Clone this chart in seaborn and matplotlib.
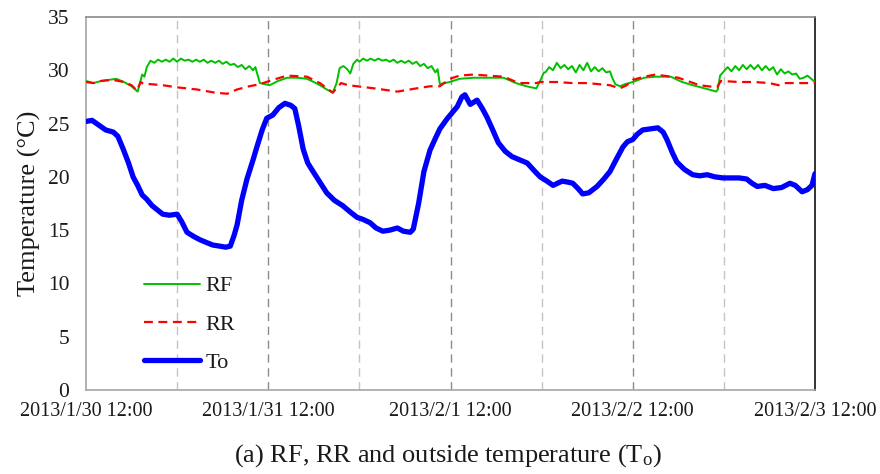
import matplotlib
matplotlib.use("Agg")
import matplotlib.pyplot as plt
import seaborn as sns
import pandas as pd
import numpy as np

# ---------------- data (hours after 2013/1/30 12:00, temperature in degC) ----------------
start_time = "2013-01-30 12:00"

to_hours = [0, 0.8, 1.8, 2.6, 3.6, 4.2, 4.9, 5.6, 6.2, 6.8, 7.4, 8.0, 8.7, 9.4, 10.1, 11.0, 12.0,
            12.6, 13.3, 14.2, 15.0, 16.0, 16.7, 17.6, 18.4, 19.0, 19.5, 19.9, 20.5, 21.2, 22.0,
            22.5, 23.2, 23.8, 24.6, 25.4, 26.2, 27.0, 27.5, 28.0, 28.6, 29.2, 29.9, 30.8, 31.7,
            32.7, 33.8, 34.8, 35.7, 36.5, 37.4, 38.2, 39.1, 40.0, 41.0, 41.8, 42.7, 43.1, 43.8,
            44.5, 45.3, 46.0, 46.6, 47.5, 48.2, 48.9, 49.5, 49.9, 50.6, 51.5, 52.2, 52.8, 53.5,
            54.3, 55.2, 56.1, 57.1, 58.1, 59.0, 59.8, 60.7, 61.5, 62.1, 62.7, 63.5, 64.1, 64.8,
            65.4, 66.2, 67.3, 68.2, 69.0, 69.8, 70.7, 71.3, 72.0, 72.6, 73.3, 74.3, 75.3, 76.0,
            76.5, 77.2, 77.8, 78.8, 79.9, 80.8, 81.8, 82.8, 83.9, 85.0, 86.0, 87.0, 87.7, 88.4,
            89.4, 90.5, 91.6, 92.7, 93.4, 94.3, 95.0, 95.6, 96.0]
to_values = [25.2, 25.3, 24.8, 24.4, 24.2, 23.8, 22.6, 21.3, 20.0, 19.2, 18.3, 17.9, 17.3, 16.9,
             16.5, 16.4, 16.5, 15.8, 14.8, 14.4, 14.1, 13.8, 13.6, 13.5, 13.4, 13.5, 14.5, 15.5,
             17.8, 19.8, 21.6, 22.8, 24.4, 25.5, 25.8, 26.5, 26.9, 26.7, 26.4, 24.8, 22.6, 21.3,
             20.5, 19.5, 18.5, 17.8, 17.3, 16.7, 16.2, 16.0, 15.7, 15.2, 14.9, 15.0, 15.2, 14.9,
             14.8, 15.1, 17.5, 20.5, 22.5, 23.6, 24.5, 25.4, 26.0, 26.6, 27.5, 27.7, 26.8, 27.2,
             26.4, 25.6, 24.5, 23.2, 22.4, 21.9, 21.6, 21.3, 20.6, 20.0, 19.6, 19.2, 19.4, 19.6,
             19.5, 19.4, 18.9, 18.4, 18.5, 19.1, 19.8, 20.5, 21.6, 22.8, 23.3, 23.5, 24.0, 24.4,
             24.5, 24.6, 24.2, 23.5, 22.3, 21.4, 20.7, 20.2, 20.1, 20.2, 20.0, 19.9, 19.9, 19.9,
             19.8, 19.4, 19.1, 19.2, 18.9, 19.0, 19.4, 19.2, 18.6, 18.8, 19.2, 20.3]

rf_hours = [0, 1, 2, 3, 4, 5, 6, 6.8, 7.1, 7.4, 7.7, 8.0,
            8.5, 9.0, 9.5, 10.0, 10.5, 11.0, 11.5, 12.0, 12.5, 13.0, 13.5, 14.0, 14.5, 15.0,
            15.5, 16.0, 16.5, 17.0, 17.5, 18.0, 18.5, 19.0, 19.5, 20.0, 20.5, 21.0, 21.5, 22.0,
            22.3, 22.9, 24.2, 25.3, 26.5, 27.8, 29.1, 30.0, 30.8, 31.7, 32.5, 33.0, 33.4, 33.9,
            34.4, 34.8, 35.2, 35.7,
            36.0, 36.5, 37.0, 37.5, 38.0, 38.5, 39.0, 39.5, 40.0, 40.5, 41.0, 41.5, 42.0, 42.5,
            43.0, 43.5, 44.0, 44.5, 45.0, 45.5, 46.0, 46.3, 46.6,
            47.9, 49.2, 51.0, 53.0, 55.0, 56.6, 58.0, 59.3, 59.8, 60.3,
            60.5, 61.0, 61.5, 62.0, 62.5, 63.0, 63.5, 64.0, 64.5, 65.0, 65.5, 66.0, 66.5, 67.0,
            67.5, 68.0, 68.5, 69.0, 69.3, 69.7, 70.3, 71.0, 72.0, 73.5, 75.0, 77.0, 78.5, 79.9,
            81.5, 83.0, 83.2, 83.5, 84.0,
            84.5, 85.0, 85.5, 86.0, 86.5, 87.0, 87.5, 88.0, 88.5, 89.0, 89.5, 90.0, 90.5, 91.0,
            91.5, 92.0, 92.5, 93.0, 93.5, 94.0, 94.5, 95.0, 95.5, 96.0]
rf_values = [29.0, 28.8, 29.0, 29.1, 29.2, 28.9, 28.5, 28.0, 28.8, 29.6, 29.4, 30.3,
             30.9, 30.7, 31.0, 30.8, 31.0, 30.8, 31.1, 30.8, 31.1, 30.9, 31.0, 30.8, 31.0, 30.8,
             31.0, 30.7, 30.9, 30.7, 30.9, 30.6, 30.8, 30.5, 30.6, 30.3, 30.5, 30.1, 30.4, 30.0,
             30.3, 28.8, 28.6, 29.0, 29.3, 29.3, 29.2, 28.9, 28.6, 28.2, 27.9, 28.8, 30.2, 30.4,
             30.1, 29.7, 30.6, 31.0,
             30.8, 31.1, 30.9, 31.1, 30.9, 31.1, 30.9, 31.0, 30.8, 31.0, 30.7, 30.9, 30.7, 30.9,
             30.6, 30.8, 30.4, 30.6, 30.2, 30.4, 29.8, 30.1, 28.7,
             28.9, 29.2, 29.3, 29.3, 29.3, 28.8, 28.5, 28.3, 29.0, 29.8,
             29.8, 30.3, 30.0, 30.7, 30.2, 30.5, 30.1, 30.4, 29.8, 30.5, 30.0, 30.7, 29.9, 30.3,
             29.9, 30.2, 29.8, 29.9, 29.3, 28.7, 28.5, 28.7, 28.9, 29.3, 29.4, 29.4, 28.9, 28.6,
             28.3, 28.0, 28.2, 29.5, 29.9,
             30.3, 29.9, 30.4, 30.0, 30.5, 30.1, 30.5, 30.1, 30.5, 30.0, 30.4, 30.0, 30.3, 29.6,
             30.1, 29.7, 29.9, 29.6, 29.7, 29.2, 29.3, 29.5, 29.2, 28.9]

rr_hours = [0, 1, 2, 3.5, 5, 6, 6.7, 7.2, 7.6, 8.5, 10.1, 12, 14.6, 17, 18.6, 19.9, 21.5, 22.9,
            24.6, 26.5, 29.1, 30.8, 32.5, 33.2, 33.6, 34.5, 35.7, 38, 41, 43.5, 45.3, 46.6, 47.9,
            49.2, 51, 53, 55, 57, 59.3, 59.8, 62, 64, 66, 69, 70.3, 71.2, 72, 73.5, 75, 78, 80.8,
            83.1, 83.6, 86, 88, 90, 91.2, 92, 94, 96]
rr_values = [28.9, 28.8, 29.0, 29.1, 28.9, 28.6, 28.1, 28.9, 28.7, 28.7, 28.6, 28.4, 28.2, 27.9,
             27.8, 28.2, 28.5, 28.7, 29.1, 29.5, 29.4, 28.8, 27.9, 28.5, 28.8, 28.6, 28.5, 28.3,
             28.0, 28.3, 28.5, 28.5, 29.2, 29.5, 29.6, 29.5, 29.4, 28.8, 28.8, 28.9, 28.9, 28.8,
             28.8, 28.6, 28.3, 28.6, 29.1, 29.4, 29.6, 29.3, 28.6, 28.4, 29.0, 28.9, 28.9, 28.8,
             28.6, 28.8, 28.8, 28.8]

x_tick_labels = ["2013/1/30 12:00", "2013/1/31 12:00", "2013/2/1 12:00",
                 "2013/2/2 12:00", "2013/2/3 12:00"]
y_ticks = [0, 5, 10, 15, 20, 25, 30, 35]
series_names = ["RF", "RR", "To"]
caption = "(a) RF, RR and outside temperature (T$_{\\mathrm{o}}$)"
y_label = "Temperature (°C)"

# ---------------- build ----------------
t0 = pd.Timestamp(start_time)
def to_time(h):
    return t0 + pd.to_timedelta(np.asarray(h, dtype=float), unit="h")

df_rf = pd.DataFrame({"time": to_time(rf_hours), "temp": rf_values})
df_rr = pd.DataFrame({"time": to_time(rr_hours), "temp": rr_values})
df_to = pd.DataFrame({"time": to_time(to_hours), "temp": to_values})

sns.set_theme(style="white")
plt.rcParams["font.family"] = ["Liberation Serif", "DejaVu Serif"]
plt.rcParams["mathtext.fontset"] = "custom"
plt.rcParams["mathtext.rm"] = "Liberation Serif"
plt.rcParams["mathtext.it"] = "Liberation Serif:italic"

fig = plt.figure(figsize=(8.8, 4.74), dpi=100)
ax = fig.add_axes([86 / 880, 1 - 390 / 474, (815 - 86) / 880, (390 - 17) / 474])

major_ticks = to_time(np.arange(0, 97, 24))
minor_ticks = to_time(np.arange(12, 97, 24))

sns.lineplot(data=df_rf, x="time", y="temp", ax=ax, color="#00c000", lw=1.4,
             label=series_names[0], zorder=3)
sns.lineplot(data=df_rr, x="time", y="temp", ax=ax, color="#ff0000", lw=1.6,
             label=series_names[1], zorder=4)
ax.lines[-1].set_dashes([4, 2.5])
sns.lineplot(data=df_to, x="time", y="temp", ax=ax, color="#0000ff", lw=3.8,
             label=series_names[2], zorder=5)

ax.set_xlim(to_time([0])[0], to_time([96])[0])
ax.set_ylim(0, 35)
ax.set_xticks(major_ticks)
ax.set_xticklabels(x_tick_labels)
ax.set_xticks(minor_ticks, minor=True)
ax.set_yticks(y_ticks)
ax.set_yticklabels([str(v) for v in y_ticks])

ax.grid(False)
for t in major_ticks[1:-1]:
    ax.axvline(t, color="#8c8c8c", lw=1.0, ls=(0, (6, 4)), zorder=1)
for t in minor_ticks:
    ax.axvline(t, color="#c4c4c4", lw=1.0, ls=(0, (6, 4)), zorder=1)

ax.tick_params(axis="x", which="both", direction="in", length=4, color="#9a9a9a",
               labelsize=14.5, pad=9, labelcolor="#1a1a1a")
ax.tick_params(axis="y", which="major", direction="in", length=4, color="#9a9a9a",
               labelsize=15.5, pad=12, labelcolor="#1a1a1a")

for side in ["left", "bottom"]:
    ax.spines[side].set_color("#a6a6a6")
    ax.spines[side].set_linewidth(1.2)
ax.spines["top"].set_color("#8a8a8a")
ax.spines["top"].set_linewidth(1.2)
ax.spines["right"].set_color("#111111")
ax.spines["right"].set_linewidth(1.2)

ax.set_xlabel("")
ax.set_ylabel(y_label, fontsize=19, color="#1a1a1a", labelpad=5)

leg = ax.legend(loc="upper left", bbox_to_anchor=(0.068, 0.33), frameon=False,
                fontsize=16, handlelength=2.5, handletextpad=0.25, labelspacing=0.8,
                borderaxespad=0)
for txt in leg.get_texts():
    txt.set_color("#1a1a1a")

fig.text(0.509, 0.038, caption, ha="center", va="center", fontsize=19, color="#1a1a1a")

fig.savefig("out.png", dpi=100)
